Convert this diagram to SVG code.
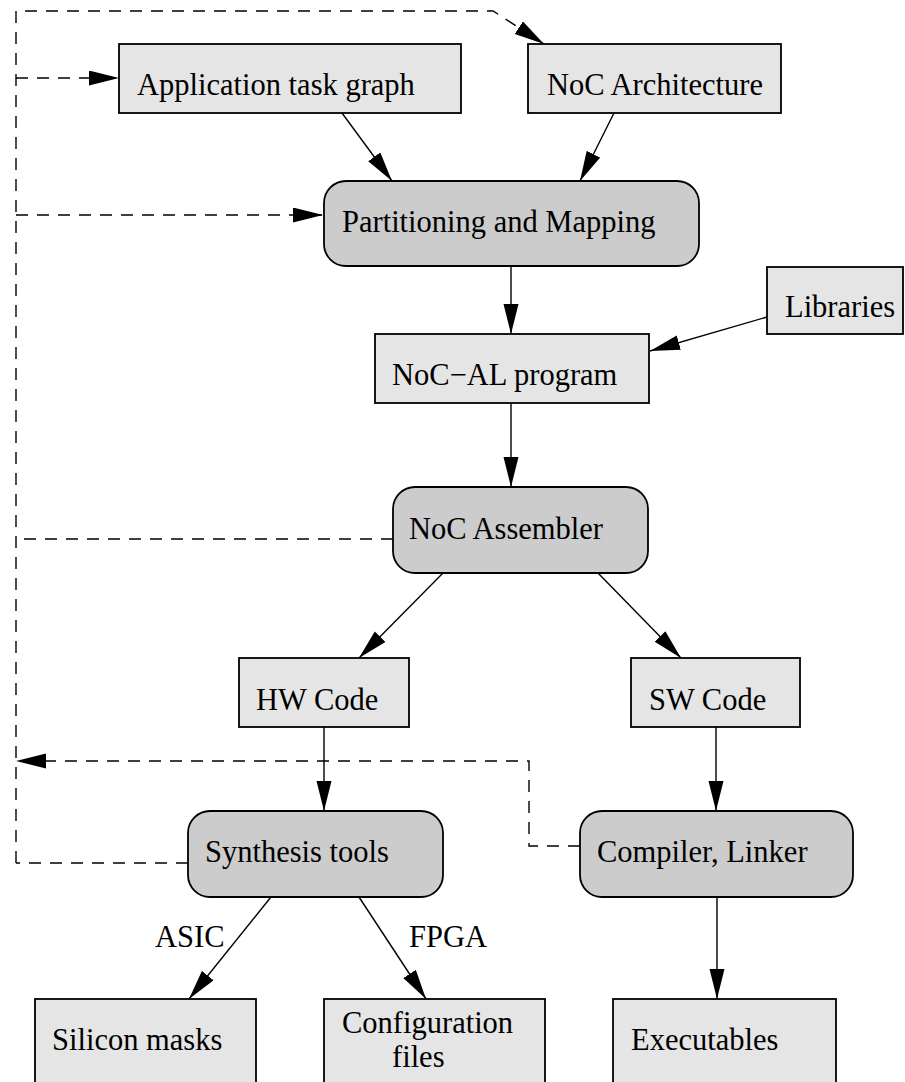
<svg xmlns="http://www.w3.org/2000/svg" width="905" height="1082" viewBox="0 0 905 1082">
<style>
.box{fill:#e5e5e5;stroke:#000;stroke-width:1.8}
.rbox{fill:#cccccc;stroke:#000;stroke-width:1.8}
.t{font-family:"Liberation Serif","Times New Roman",serif;font-size:30.5px;fill:#000}
.e{fill:none;stroke:#000;stroke-width:1.4}
.d{fill:none;stroke:#000;stroke-width:1.4;stroke-dasharray:12 9}
</style>
<defs>
<marker id="ah" markerUnits="userSpaceOnUse" markerWidth="32" markerHeight="16" refX="30" refY="7.5" orient="auto" viewBox="0 0 32 16">
<path d="M0,0 L30,7.5 L0,15 z" fill="#000"/>
</marker>
</defs>
<rect width="905" height="1082" fill="#fff"/>
<g id="connectors">
<line class="e" x1="342" y1="113" x2="392" y2="181" marker-end="url(#ah)"/>
<line class="e" x1="614" y1="113" x2="580" y2="181" marker-end="url(#ah)"/>
<line class="e" x1="511" y1="266" x2="511" y2="334" marker-end="url(#ah)"/>
<line class="e" x1="767" y1="317" x2="650" y2="351" marker-end="url(#ah)"/>
<line class="e" x1="511" y1="403" x2="511" y2="487" marker-end="url(#ah)"/>
<line class="e" x1="443" y1="573" x2="359" y2="658" marker-end="url(#ah)"/>
<line class="e" x1="598" y1="573" x2="681" y2="658" marker-end="url(#ah)"/>
<line class="e" x1="324" y1="727" x2="324" y2="811" marker-end="url(#ah)"/>
<line class="e" x1="716" y1="727" x2="716" y2="811" marker-end="url(#ah)"/>
<line class="e" x1="271" y1="897" x2="189" y2="999" marker-end="url(#ah)"/>
<line class="e" x1="359" y1="897" x2="426" y2="999" marker-end="url(#ah)"/>
<line class="e" x1="717" y1="897" x2="717" y2="999" marker-end="url(#ah)"/>
<path class="d" d="M16,863 L16,11 L493,11 L544,44" marker-end="url(#ah)"/>
<line class="d" x1="16" y1="78" x2="119" y2="78" marker-end="url(#ah)"/>
<line class="d" x1="16" y1="215" x2="323" y2="215" marker-end="url(#ah)"/>
<line class="d" x1="393" y1="539" x2="16" y2="539"/>
<path class="d" d="M580,846 L529,846 L529,761 L16,761" marker-end="url(#ah)"/>
<line class="d" x1="188" y1="863" x2="16" y2="863"/>
<text class="t" x="155" y="947">ASIC</text>
<text class="t" x="409" y="947">FPGA</text>
</g>
<g id="app"><rect class="box" x="119" y="44" width="342" height="69"/><text class="t" x="137" y="95">Application task graph</text></g>
<g id="noc-arch"><rect class="box" x="528" y="44" width="253" height="69"/><text class="t" x="547" y="95">NoC Architecture</text></g>
<g id="partition"><rect class="rbox" x="324" y="181" width="375" height="85" rx="22"/><text class="t" x="342" y="232">Partitioning and Mapping</text></g>
<g id="libraries"><rect class="box" x="767" y="267" width="136" height="67"/><text class="t" x="785" y="317">Libraries</text></g>
<g id="nocal"><rect class="box" x="375" y="334" width="274" height="69"/><text class="t" x="392" y="385">NoC−AL program</text></g>
<g id="assembler"><rect class="rbox" x="393" y="487" width="255" height="86" rx="22"/><text class="t" x="409" y="539">NoC Assembler</text></g>
<g id="hw"><rect class="box" x="239" y="658" width="170" height="69"/><text class="t" x="256" y="710">HW Code</text></g>
<g id="sw"><rect class="box" x="631" y="658" width="169" height="69"/><text class="t" x="649" y="710">SW Code</text></g>
<g id="synth"><rect class="rbox" x="188" y="811" width="255" height="86" rx="22"/><text class="t" x="205" y="862">Synthesis tools</text></g>
<g id="compiler"><rect class="rbox" x="580" y="811" width="273" height="86" rx="22"/><text class="t" x="597" y="862">Compiler, Linker</text></g>
<g id="silicon"><rect class="box" x="35" y="999" width="221" height="110"/><text class="t" x="52" y="1050">Silicon masks</text></g>
<g id="config"><rect class="box" x="324" y="999" width="221" height="110"/><text class="t" x="342" y="1033">Configuration</text><text class="t" x="392" y="1067">files</text></g>
<g id="exec"><rect class="box" x="613" y="999" width="223" height="110"/><text class="t" x="631" y="1050">Executables</text></g>
</svg>
